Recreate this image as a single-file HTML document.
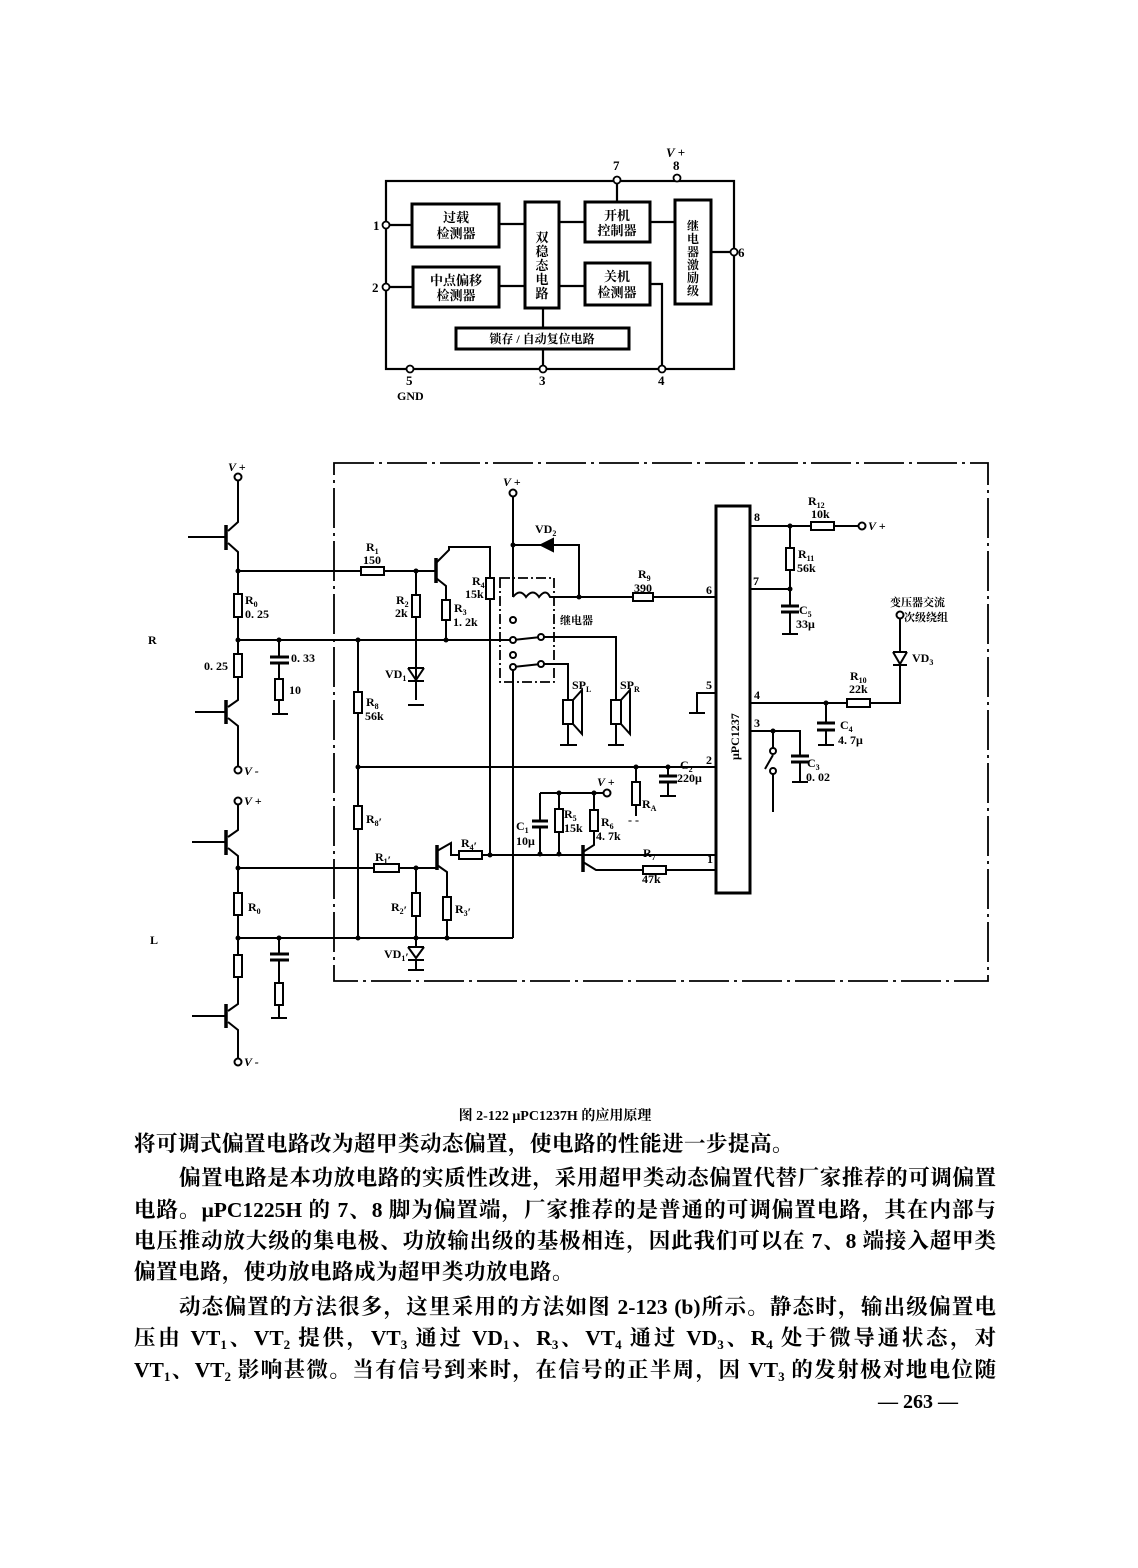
<!DOCTYPE html>
<html><head><meta charset="utf-8"><style>
html,body{margin:0;padding:0;background:#fff;}
body{width:1138px;height:1568px;position:relative;overflow:hidden;}
svg{position:absolute;left:0;top:0;}
.t{position:absolute;font-family:"Liberation Serif","Noto Serif CJK SC",serif;font-weight:700;font-size:21.5px;line-height:26px;white-space:nowrap;color:#000;}
.j{text-align:justify;text-align-last:justify;white-space:normal;height:26px;overflow:visible;}
sub{font-size:13px;vertical-align:-4px;line-height:0;}
</style></head><body>
<svg width="1138" height="1568" viewBox="0 0 1138 1568" font-family="Liberation Serif, Noto Serif CJK SC, serif" font-weight="700">
<g stroke="#000" stroke-width="2.2" fill="none">
<rect x="386" y="181" width="348" height="188"/>
<rect x="412" y="204" width="87" height="43" stroke-width="3"/>
<rect x="413" y="267" width="86" height="40" stroke-width="3"/>
<rect x="525" y="202" width="34" height="106" stroke-width="3"/>
<rect x="585" y="202" width="65" height="40" stroke-width="3"/>
<rect x="585" y="263" width="65" height="42" stroke-width="3"/>
<rect x="675" y="200" width="36" height="104" stroke-width="3"/>
<rect x="456" y="328" width="173" height="21" stroke-width="3"/>
<path d="M386 225H412M499 224H525M559 222H585M650 222H675M617 181V202M711 252H734M386 287H413M499 286H525M559 286H585M650 284H662V369M543 308V328M543 349V369"/>
</g>
<g fill="#fff" stroke="#000" stroke-width="1.8">
<circle cx="386" cy="225" r="3.5"/><circle cx="386" cy="287" r="3.5"/><circle cx="617" cy="180" r="3.5"/><circle cx="677" cy="178" r="3.5"/><circle cx="734" cy="252" r="3.5"/><circle cx="410" cy="369" r="3.5"/><circle cx="543" cy="369" r="3.5"/><circle cx="662" cy="369" r="3.5"/>
</g>
<g font-size="13" text-anchor="middle">
<text x="456" y="222">过载</text><text x="456" y="238">检测器</text>
<text x="456" y="285">中点偏移</text><text x="456" y="300">检测器</text>
<text x="617" y="220">开机</text><text x="617" y="235">控制器</text>
<text x="617" y="281">关机</text><text x="617" y="297">检测器</text>
<text x="542" y="343" font-size="12">锁存 / 自动复位电路</text>
<text x="542" y="242"><tspan x="542" dy="0">双</tspan><tspan x="542" dy="14">稳</tspan><tspan x="542" dy="14">态</tspan><tspan x="542" dy="14">电</tspan><tspan x="542" dy="14">路</tspan></text>
<text x="693" y="230" font-size="12"><tspan x="693" dy="0">继</tspan><tspan x="693" dy="13">电</tspan><tspan x="693" dy="13">器</tspan><tspan x="693" dy="13">激</tspan><tspan x="693" dy="13">励</tspan><tspan x="693" dy="13">级</tspan></text>
</g>
<g font-size="13">
<text x="373" y="230">1</text><text x="372" y="292">2</text><text x="613" y="170">7</text><text x="673" y="170">8</text><text x="666" y="157" font-style="italic">V +</text><text x="738" y="257">6</text><text x="406" y="385">5</text><text x="397" y="400" font-size="12">GND</text><text x="539" y="385">3</text><text x="658" y="385">4</text>
</g>

<rect x="334" y="463" width="654" height="518" fill="none" stroke="#000" stroke-width="1.8" stroke-dasharray="40 5 3 5"/>
<g stroke="#000" stroke-width="2" fill="none">
<path d="M238 481V522L228 531M228 543L238 552V571M188 537H226"/>
<path d="M226 525V550" stroke-width="3.5"/>
<path d="M238 571V594M238 617V654M238 677V700L228 707M228 718L238 726V766M195 712H226"/>
<path d="M226 700V724" stroke-width="3.5"/>
<path d="M238 571H361M384 571H436M238 640H513"/>
<path d="M279 640V657M279 663V679M279 700V714M272 714H288"/>
<path d="M270 657H289M270 663H289" stroke-width="3"/>
<path d="M436 558V583" stroke-width="3.5"/>
<path d="M436 563L449 550V547H490V578M436 578L446 586V600M446 620V640"/>
<path d="M416 571V595M416 617V700M408 705H424"/>
<path d="M408 668H424M408 668L416 680L424 668M408 681H424"/>
<path d="M490 599V855"/>
<path d="M358 640V692M358 713V806M358 829V938M358 767H716"/>
<path d="M513 497V597M513 545H579V597M513 597Q520 588 526 597Q533 588 539 597Q546 588 550 597H579M579 597H633M653 597H716"/>
<path d="M553 539V551M553 539L541 545L553 551Z" fill="#000"/>
<rect x="500" y="578" width="54" height="104" stroke-width="1.8" stroke-dasharray="10 3 2 3"/>
<path d="M513 640L541 637M541 637H616V700M513 667L541 664M541 664H568V700M513 667V938"/>
<path d="M568 724V745M560 745H577M616 724V745M608 745H624"/>
<rect x="563" y="700" width="10" height="24"/><path d="M573 700L582 690V734L573 724"/>
<rect x="611" y="700" width="10" height="24"/><path d="M621 700L630 690V734L621 724"/>
<path d="M238 805V830L228 837M228 848L238 856V868M192 842H226"/>
<path d="M226 830V855" stroke-width="3.5"/>
<path d="M238 868V893M238 915V955M238 977V1004L228 1011M228 1022L238 1030V1058M192 1016H226"/>
<path d="M226 1004V1028" stroke-width="3.5"/>
<path d="M238 868H374M399 868H437M238 938H513"/>
<path d="M279 938V954M279 960V983M279 1005V1018M271 1018H287"/>
<path d="M270 954H289M270 960H289" stroke-width="3"/>
<path d="M437 845V870" stroke-width="3.5"/>
<path d="M437 851L451 843V855H459M482 855H716"/>
<path d="M437 865L447 872V897M447 920V938"/>
<path d="M416 868V893M416 916V947M408 947H424M408 947L416 958L424 947M408 960H424M416 960V970M408 970H424"/>
<path d="M540 793H607M540 793V821M540 827V854M559 793V809M559 832V854M594 793V810M594 831V845L583 852M583 862L596 870H643M666 870H716"/>
<path d="M532 821H548M532 827H548" stroke-width="3"/>
<path d="M583 845V872" stroke-width="3.5"/>
<path d="M636 767V782M636 805V816M668 767V776M668 782V796M660 796H676"/>
<path d="M659 776H677M659 782H677" stroke-width="3"/>
<rect x="716" y="506" width="34" height="387" stroke-width="3"/>
<path d="M750 526H811M834 526H858M790 526V548M790 570V606M750 589H790M790 612V634M782 634H798"/>
<path d="M781 606H799M781 612H799" stroke-width="3"/>
<path d="M716 693H697V713M689 713H705"/>
<path d="M750 703H847M870 703H900V666M900 652V619M826 703V723M826 730V745M818 745H834"/>
<path d="M893 652H907M893 652L900 664L907 652M893 665H907"/>
<path d="M817 723H835M817 730H835" stroke-width="3"/>
<path d="M750 731H800V756M800 762V782M792 782H808M773 731V748M773 755L765 769M773 774V812"/>
<path d="M791 756H809M791 762H809" stroke-width="3"/>
</g>
<g fill="#fff" stroke="#000" stroke-width="2">
<rect x="234" y="594" width="8" height="23"/><rect x="234" y="654" width="8" height="23"/><rect x="275" y="679" width="8" height="21"/>
<rect x="361" y="567" width="23" height="8"/><rect x="412" y="595" width="8" height="22"/><rect x="442" y="600" width="8" height="20"/><rect x="486" y="578" width="8" height="21"/>
<rect x="354" y="692" width="8" height="21"/><rect x="354" y="806" width="8" height="23"/>
<rect x="633" y="593" width="20" height="8"/>
<rect x="234" y="893" width="8" height="22"/><rect x="234" y="955" width="8" height="22"/><rect x="275" y="983" width="8" height="22"/>
<rect x="374" y="864" width="25" height="8"/><rect x="412" y="893" width="8" height="23"/><rect x="443" y="897" width="8" height="23"/><rect x="459" y="851" width="23" height="8"/>
<rect x="555" y="809" width="8" height="23"/><rect x="590" y="810" width="8" height="21"/><rect x="643" y="866" width="23" height="8"/>
<rect x="632" y="782" width="8" height="23"/>
<rect x="811" y="522" width="23" height="8"/><rect x="786" y="548" width="8" height="22"/><rect x="847" y="699" width="23" height="8"/>
<circle cx="238" cy="477" r="3.5"/><circle cx="238" cy="770" r="3.5"/><circle cx="238" cy="801" r="3.5"/><circle cx="238" cy="1062" r="3.5"/>
<circle cx="513" cy="493" r="3.5"/><circle cx="607" cy="793" r="3.5"/><circle cx="862" cy="526" r="3.5"/><circle cx="900" cy="615" r="3.5"/>
<circle cx="513" cy="620" r="3"/><circle cx="513" cy="640" r="3"/><circle cx="541" cy="637" r="3"/><circle cx="513" cy="655" r="3"/><circle cx="513" cy="667" r="3"/><circle cx="541" cy="664" r="3"/>
<circle cx="773" cy="751" r="3"/><circle cx="773" cy="771" r="3"/>
</g>
<g fill="#000">
<circle cx="238" cy="571" r="2.5"/><circle cx="238" cy="640" r="2.5"/><circle cx="416" cy="571" r="2.5"/><circle cx="446" cy="640" r="2.5"/><circle cx="358" cy="640" r="2.5"/><circle cx="279" cy="640" r="2.5"/>
<circle cx="513" cy="545" r="2.5"/><circle cx="579" cy="597" r="2.5"/><circle cx="358" cy="767" r="2.5"/><circle cx="636" cy="767" r="2.5"/><circle cx="668" cy="767" r="2.5"/>
<circle cx="238" cy="868" r="2.5"/><circle cx="238" cy="938" r="2.5"/><circle cx="279" cy="938" r="2.5"/><circle cx="358" cy="938" r="2.5"/><circle cx="416" cy="868" r="2.5"/><circle cx="416" cy="938" r="2.5"/><circle cx="447" cy="938" r="2.5"/><circle cx="490" cy="855" r="2.5"/>
<circle cx="540" cy="854" r="2.5"/><circle cx="559" cy="854" r="2.5"/><circle cx="559" cy="793" r="2.5"/><circle cx="594" cy="793" r="2.5"/>
<circle cx="790" cy="526" r="2.5"/><circle cx="790" cy="589" r="2.5"/><circle cx="826" cy="703" r="2.5"/><circle cx="773" cy="731" r="2.5"/>
</g>
<g font-size="12">
<text x="228" y="471" font-style="italic">V +</text><text x="244" y="775" font-style="italic">V -</text><text x="244" y="805" font-style="italic">V +</text><text x="244" y="1066" font-style="italic">V -</text>
<text x="503" y="486" font-style="italic">V +</text><text x="597" y="786" font-style="italic">V +</text><text x="868" y="530" font-style="italic">V +</text>
<text x="148" y="644">R</text><text x="150" y="944">L</text>
<text x="245" y="604">R<tspan font-size="8" dy="3">0</tspan></text><text x="245" y="618">0. 25</text>
<text x="204" y="670">0. 25</text><text x="291" y="662">0. 33</text><text x="289" y="694">10</text>
<text x="366" y="551">R<tspan font-size="8" dy="3">1</tspan></text><text x="363" y="564">150</text>
<text x="396" y="604">R<tspan font-size="8" dy="3">2</tspan></text><text x="395" y="617">2k</text>
<text x="454" y="612">R<tspan font-size="8" dy="3">3</tspan></text><text x="453" y="626">1. 2k</text>
<text x="472" y="585">R<tspan font-size="8" dy="3">4</tspan></text><text x="465" y="598">15k</text>
<text x="385" y="678">VD<tspan font-size="8" dy="3">1</tspan></text>
<text x="366" y="706">R<tspan font-size="8" dy="3">8</tspan></text><text x="365" y="720">56k</text>
<text x="535" y="533">VD<tspan font-size="8" dy="3">2</tspan></text>
<text x="638" y="578">R<tspan font-size="8" dy="3">9</tspan></text><text x="634" y="592">390</text>
<text x="560" y="624" font-size="11">继电器</text>
<text x="572" y="689">SP<tspan font-size="8" dy="3">L</tspan></text><text x="620" y="689">SP<tspan font-size="8" dy="3">R</tspan></text>
<text x="366" y="823">R<tspan font-size="8" dy="3">8</tspan>′</text>
<text x="375" y="861">R<tspan font-size="8" dy="3">1</tspan>′</text><text x="391" y="911">R<tspan font-size="8" dy="3">2</tspan>′</text><text x="455" y="913">R<tspan font-size="8" dy="3">3</tspan>′</text><text x="461" y="847">R<tspan font-size="8" dy="3">4</tspan>′</text>
<text x="384" y="958">VD<tspan font-size="8" dy="3">1</tspan>′</text><text x="248" y="911">R<tspan font-size="8" dy="3">0</tspan></text>
<text x="516" y="830">C<tspan font-size="8" dy="3">1</tspan></text><text x="516" y="845">10μ</text>
<text x="564" y="818">R<tspan font-size="8" dy="3">5</tspan></text><text x="564" y="832">15k</text>
<text x="601" y="826">R<tspan font-size="8" dy="3">6</tspan></text><text x="596" y="840">4. 7k</text>
<text x="643" y="857">R<tspan font-size="8" dy="3">7</tspan></text><text x="642" y="883">47k</text>
<text x="642" y="808">R<tspan font-size="8" dy="3">A</tspan></text><text x="628" y="824">-  -</text>
<text x="680" y="769">C<tspan font-size="8" dy="3">2</tspan></text><text x="677" y="782">220μ</text>
<text x="754" y="521">8</text><text x="753" y="585">7</text><text x="706" y="594">6</text><text x="706" y="689">5</text><text x="754" y="699">4</text><text x="754" y="727">3</text><text x="706" y="764">2</text><text x="707" y="863">1</text>
<text x="808" y="505">R<tspan font-size="8" dy="3">12</tspan></text><text x="811" y="518">10k</text>
<text x="798" y="558">R<tspan font-size="8" dy="3">11</tspan></text><text x="797" y="572">56k</text>
<text x="799" y="614">C<tspan font-size="8" dy="3">5</tspan></text><text x="796" y="628">33μ</text>
<text x="890" y="606" font-size="11">变压器交流</text><text x="904" y="621" font-size="11">次级绕组</text>
<text x="912" y="662">VD<tspan font-size="8" dy="3">3</tspan></text>
<text x="850" y="680">R<tspan font-size="8" dy="3">10</tspan></text><text x="849" y="693">22k</text>
<text x="840" y="729">C<tspan font-size="8" dy="3">4</tspan></text><text x="838" y="744">4. 7μ</text>
<text x="807" y="767">C<tspan font-size="8" dy="3">3</tspan></text><text x="806" y="781">0. 02</text>
<text transform="translate(739,760) rotate(-90)" font-size="12">μPC1237</text>
</g>
<text x="555" y="1120" font-size="14" text-anchor="middle">图 2-122   μPC1237H 的应用原理</text>
</svg>
<div class="t" style="left:134px;top:1131px;letter-spacing:0.5px;">将可调式偏置电路改为超甲类动态偏置，使电路的性能进一步提高。</div>
<div class="t j" style="left:179px;top:1165px;width:817px;">偏置电路是本功放电路的实质性改进，采用超甲类动态偏置代替厂家推荐的可调偏置</div>
<div class="t j" style="left:134px;top:1197px;width:862px;">电路。μPC1225H 的 7、8 脚为偏置端，厂家推荐的是普通的可调偏置电路，其在内部与</div>
<div class="t j" style="left:134px;top:1228px;width:862px;">电压推动放大级的集电极、功放输出级的基极相连，因此我们可以在 7、8 端接入超甲类</div>
<div class="t" style="left:134px;top:1259px;letter-spacing:0.5px;">偏置电路，使功放电路成为超甲类功放电路。</div>
<div class="t j" style="left:179px;top:1294px;width:817px;">动态偏置的方法很多，这里采用的方法如图 2-123 (b)所示。静态时，输出级偏置电</div>
<div class="t j" style="left:134px;top:1325px;width:862px;">压由 VT<sub>1</sub>、VT<sub>2</sub> 提供，VT<sub>3</sub> 通过 VD<sub>1</sub>、R<sub>3</sub>、VT<sub>4</sub> 通过 VD<sub>3</sub>、R<sub>4</sub> 处于微导通状态，对</div>
<div class="t j" style="left:134px;top:1357px;width:862px;">VT<sub>1</sub>、VT<sub>2</sub> 影响甚微。当有信号到来时，在信号的正半周，因 VT<sub>3</sub> 的发射极对地电位随</div>
<div class="t" style="left:878px;top:1389px;font-size:20px;">— 263 —</div>
</body></html>
